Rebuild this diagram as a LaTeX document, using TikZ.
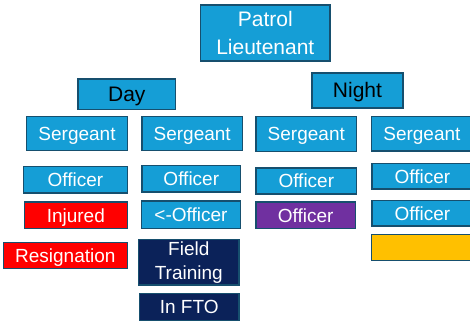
\documentclass[tikz,border=0pt]{standalone}
\usepackage{fontspec}
\setmainfont{Liberation Sans}
\definecolor{boxblue}{HTML}{159ED6}
\definecolor{edge}{HTML}{164F6E}
\definecolor{navy}{HTML}{0B2259}
\definecolor{ored}{HTML}{FF0000}
\definecolor{opurple}{HTML}{7030A0}
\definecolor{oyellow}{HTML}{FFC000}
\newcommand{\cuttext}[1]{\makebox[101pt]{#1}\hspace*{9pt}}
\tikzset{
  box/.style={draw=edge, line width=1.4pt, fill=boxblue, text=white, inner sep=0pt,
    font=\fontsize{19}{23}\selectfont, text height=13.6pt, text depth=0pt},
  head/.style={box, text=black, font=\fontsize{21}{25}\selectfont, text height=15pt},
  multi/.style={draw=edge, line width=1.4pt, inner sep=0pt, align=center, text=white},
  redbox/.style={box, fill=ored},
  purplebox/.style={box, fill=opurple},
  yellowbox/.style={box, fill=oyellow},
  navybox/.style={box, fill=navy},
  cutbox/.style={box, anchor=west, minimum width=110pt},
}
\begin{document}
\begin{tikzpicture}[x=1pt, y=-1pt]
\useasboundingbox (0,0) rectangle (470,323);
\clip (0,0) rectangle (470,323);
% top
\node[multi, fill=boxblue, minimum width=129.3pt, minimum height=56pt,
  font=\fontsize{21}{27.6}\selectfont] (pl) at (265.3,33) {Patrol\\Lieutenant};
\node[head, minimum width=97.7pt, minimum height=30.7pt] (day) at (126.8,94.3) {Day};
\node[head, minimum width=91pt, minimum height=35pt] (night) at (357.5,90.5) {Night};
% sergeants
\node[box, minimum width=100.6pt, minimum height=34pt] (s1) at (77,133.7) {Sergeant};
\node[box, minimum width=100.3pt, minimum height=34pt] (s2) at (192.2,133.7) {Sergeant};
\node[box, minimum width=100.7pt, minimum height=35pt] (s3) at (306.3,134.2) {Sergeant};
\node[cutbox, minimum height=34.3pt] (s4) at (370.7,133.8) {\cuttext{Sergeant}};
% officers
\node[box, minimum width=103.6pt, minimum height=26.3pt] (o1) at (75.5,179.8) {Officer};
\node[box, minimum width=98.7pt, minimum height=26.3pt] (o2) at (191.3,178.8) {Officer};
\node[box, minimum width=100.7pt, minimum height=26pt] (o3) at (306.3,181) {Officer};
\node[cutbox, minimum height=25.7pt] (o4) at (371.3,176.2) {\cuttext{Officer}};
% second row
\node[redbox, minimum width=103pt, minimum height=26.3pt] (inj) at (75.8,215.2) {Injured};
\node[box, minimum width=99.4pt, minimum height=27.3pt] (lo) at (191,214.7) {<-Officer};
\node[purplebox, minimum width=99.3pt, minimum height=26.3pt] (po) at (305.7,215.2) {Officer};
\node[cutbox, minimum height=25.7pt] (o5) at (371.3,213.2) {\cuttext{Officer}};
% third row
\node[yellowbox, anchor=west, minimum width=110pt, minimum height=25.6pt] (yel) at (370.7,247.5) {};
\node[redbox, minimum width=124pt, minimum height=26pt] (res) at (65.3,255.3) {Resignation};
\node[multi, fill=navy, minimum width=100.3pt, minimum height=45.7pt,
  font=\fontsize{19}{24}\selectfont] (ft) at (188.8,262.2) {Field\\Training};
\node[navybox, minimum width=99.7pt, minimum height=27pt] (fto) at (189.2,306.8) {In FTO};
\end{tikzpicture}
\end{document}
